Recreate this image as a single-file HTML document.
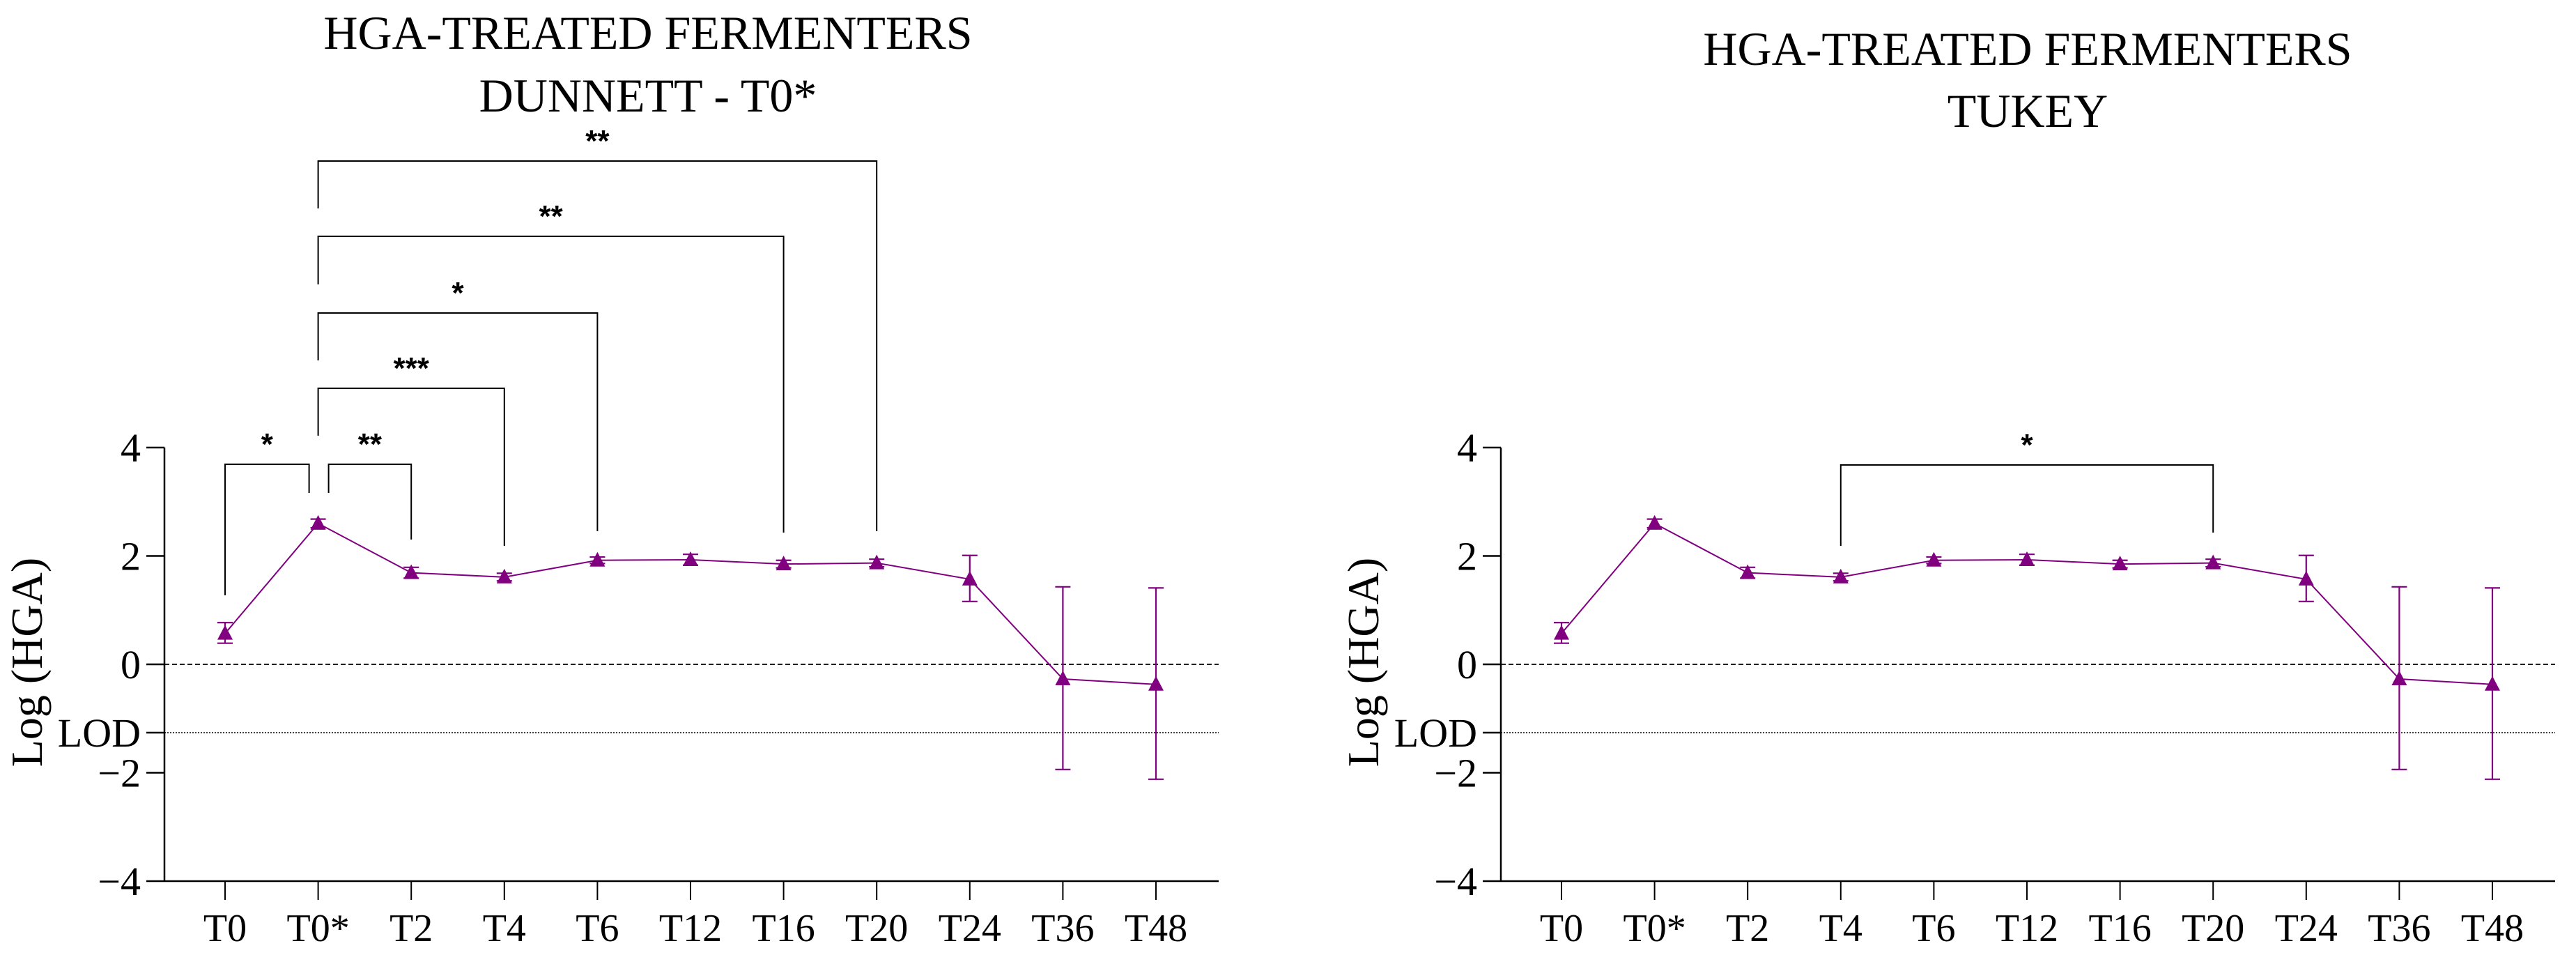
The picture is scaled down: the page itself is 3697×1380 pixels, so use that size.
<!DOCTYPE html>
<html><head><meta charset="utf-8">
<style>
html,body{margin:0;padding:0;background:#fff;}
svg{display:block;font-family:"Liberation Serif",serif;}
</style></head>
<body>
<svg id="chart" width="3697" height="1380" viewBox="0 0 3697 1380" xmlns="http://www.w3.org/2000/svg"></svg>
<script>
const categories = ["T0","T0*","T2","T4","T6","T12","T16","T20","T24","T36","T48"];
const means = [0.57, 2.6, 1.69, 1.61, 1.92, 1.93, 1.85, 1.87, 1.57, -0.27, -0.37];
const errUp = [0.2, 0.08, 0.1, 0.07, 0.06, 0.1, 0.07, 0.07, 0.44, 1.7, 1.78];
const errDown = [0.18, 0.08, 0.1, 0.07, 0.06, 0.1, 0.07, 0.07, 0.41, 1.67, 1.75];
const yTicks = [4, 2, 0, -2, -4];
const yTickLabels = ["4", "2", "0", "\u22122", "\u22124"];
const lodValue = -1.26;
const dunnettComparisons = [["T0","T0*","*"],["T0*","T2","**"],["T0*","T4","***"],["T0*","T6","*"],["T0*","T16","**"],["T0*","T20","**"]];
const tukeyComparisons = [["T4","T20","*"]];

const NS = "http://www.w3.org/2000/svg";
const svg = document.getElementById("chart");
function mk(tag, attrs, parent, text){
  const e = document.createElementNS(NS, tag);
  for (const k in attrs) e.setAttribute(k, attrs[k]);
  if (text !== undefined) e.textContent = text;
  (parent || svg).appendChild(e);
  return e;
}
const PURPLE = "#800080";

function panel(ox, titles, titleYs, titleCx, comps, bracketLevels){
  const g = mk("g", {});
  
  
  const axisX = ox, axisR = ox + 1513;
  const x0 = ox + 87, step = 133.6;
  const xS = i => x0 + i * step;
  const yS = v => 953 - v * 77.75;
  titles.forEach((t, i) => {
    const tt = mk("text", {x: titleCx, y: titleYs[i], "font-size": 68, "text-anchor": "middle"}, g, t);
    
    
  });
  const ya = mk("line", {x1: axisX, y1: yS(4), x2: axisX, y2: yS(-4)+1, stroke: "#000", "stroke-width": 2.5}, g);
  
  
  yTicks.forEach((v, i) => {
    mk("line", {x1: axisX - 26, y1: yS(v), x2: axisX, y2: yS(v), stroke: "#000", "stroke-width": 2.5}, g);
    const tl = mk("text", {x: axisX - 34, y: yS(v) + 20, "font-size": 58, "text-anchor": "end"}, g, yTickLabels[i]);
    
    
  });
  mk("line", {x1: axisX - 26, y1: yS(lodValue), x2: axisX, y2: yS(lodValue), stroke: "#000", "stroke-width": 2.5}, g);
  const lodT = mk("text", {x: axisX - 34, y: yS(lodValue) + 20, "font-size": 58, "text-anchor": "end"}, g, "LOD");
  
  
  const lodL = mk("line", {x1: axisX, y1: yS(lodValue), x2: axisR, y2: yS(lodValue), stroke: "#000", "stroke-width": 1.5, "stroke-dasharray": "2 2"}, g);
  
  
  const zl = mk("line", {x1: axisX, y1: yS(0), x2: axisR, y2: yS(0), stroke: "#000", "stroke-width": 1.8, "stroke-dasharray": "7 4"}, g);
  
  
  const yl = mk("text", {x: 0, y: 0, "font-size": 64, "text-anchor": "middle", transform: `translate(${ox-176},950) rotate(-90)`}, g, "Log (HGA)");
  
  
  const xa = mk("line", {x1: axisX, y1: yS(-4), x2: axisR, y2: yS(-4), stroke: "#000", "stroke-width": 2.5}, g);
  
  
  categories.forEach((c, i) => {
    mk("line", {x1: xS(i), y1: yS(-4), x2: xS(i), y2: yS(-4) + 27, stroke: "#000", "stroke-width": 2}, g);
    const t = mk("text", {x: xS(i), y: 1350, "font-size": 56, "text-anchor": "middle"}, g, c);
    
    
  });
  const pts = means.map((m, i) => `${xS(i)},${yS(m)}`).join(" ");
  const pl = mk("polyline", {points: pts, fill: "none", stroke: PURPLE, "stroke-width": 2}, g);
  
  
  means.forEach((m, i) => {
    const x = xS(i), yt = yS(m + errUp[i]), yb = yS(m - errDown[i]);
    const eb = mk("path", {d: `M${x},${yt}V${yb}M${x-11},${yt}H${x+11}M${x-11},${yb}H${x+11}`, stroke: PURPLE, "stroke-width": 2.2, fill: "none"}, g);
    
    
    const y = yS(m);
    const mkr = mk("polygon", {points: `${x},${y-12} ${x-11},${y+9} ${x+11},${y+9}`, fill: PURPLE}, g);
    
    
  });
  comps.forEach((cmp, k) => {
    const a = categories.indexOf(cmp[0]), b = categories.indexOf(cmp[1]);
    const lv = bracketLevels[k];
    let xa1 = xS(a), xb1 = xS(b);
    if (lv.offL) xa1 += lv.offL;
    if (lv.offR) xb1 += lv.offR;
    const br = mk("path", {d: `M${xa1},${lv.l}V${lv.y}H${xb1}V${lv.r}`, stroke: "#000", "stroke-width": 2, fill: "none"}, g);
    
    
    const st = mk("text", {x: (xa1 + xb1) / 2, y: lv.y - 14, "font-size": 44, "font-weight": "bold", "text-anchor": "middle", "font-family": "Liberation Sans, sans-serif"}, g, cmp[2]);
    
    
  });
}

panel(236, ["HGA-TREATED FERMENTERS", "DUNNETT - T0*"], [70, 160], 930, dunnettComparisons, [
  {y: 666, l: 854, r: 707, offR: -13},
  {y: 666, l: 707, r: 774, offL: 15},
  {y: 557, l: 625, r: 783},
  {y: 449, l: 517, r: 762},
  {y: 339, l: 408, r: 764},
  {y: 231, l: 299, r: 762}
]);
panel(2154, ["HGA-TREATED FERMENTERS", "TUKEY"], [93, 182], 2910, tukeyComparisons, [
  {y: 667, l: 783, r: 764}
]);
</script>
</body></html>
